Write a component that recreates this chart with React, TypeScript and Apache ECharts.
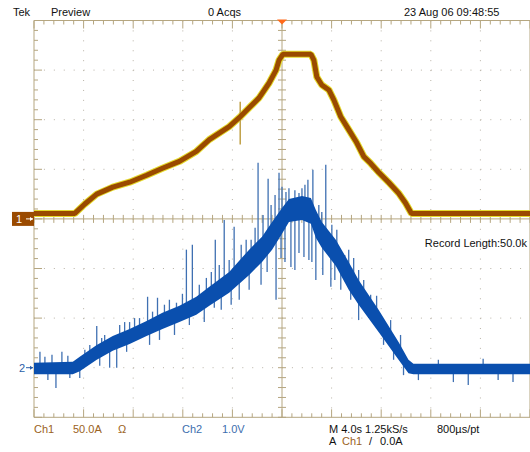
import React, { useEffect, useRef } from "react";
import * as echarts from "echarts";

// Time axis: 4.0 s/div, 10 divisions, trigger at centre
const X_MIN = -20;
const X_MAX = 20;
const X_DIV = 4;
// Ch1: 50.0 A/div, ground at centre
const CH1_MIN = -200;
const CH1_MAX = 200;
const CH1_DIV = 50;
// Ch2: 1.0 V/div, ground 3 div below centre
const CH2_MIN = -1;
const CH2_MAX = 7;

// Ch1 current trace (s, A)
const ch1Time = [-20, -16.71, -15.9, -14.94, -13.65, -12.29, -10.92, -9.64, -8.27, -6.91, -5.86, -4.26, -3.45, -2.65, -1.85, -1.04, -0.48, -0.24, 0.08, 2.33, 2.57, 2.81, 3.21, 3.78, 4.18, 4.74, 5.38, 6.02, 6.59, 7.15, 7.79, 8.59, 9.4, 9.96, 10.44, 20];
const ch1Amps = [5.5, 5.5, 15, 25, 32, 37, 44, 51, 58, 68, 80, 93, 102, 112, 122, 137, 150, 160, 166, 166, 160, 143, 135, 130, 120, 103, 90, 77, 63, 56, 47, 37, 26, 16, 5.5, 5.5];
// Ch1 glitch
const ch1GlitchTime = [-3.37, -3.37];
const ch1GlitchAmps = [118, 75];

// Ch2 voltage trace envelope (s, V)
const ch2Time = [-20, -16.87, -16.31, -14.94, -13.65, -12.29, -10.92, -9.64, -8.27, -6.91, -5.86, -4.26, -2.65, -1.61, -0.8, 0, 0.56, 1.61, 2.33, 2.73, 3.21, 4.34, 5.38, 6.18, 7.79, 9.4, 10.2, 10.6, 20];
const ch2Upper = [0.1, 0.12, 0.22, 0.46, 0.64, 0.78, 0.94, 1.11, 1.25, 1.43, 1.63, 1.93, 2.38, 2.64, 2.94, 3.22, 3.4, 3.46, 3.42, 3.18, 2.94, 2.58, 2.13, 1.77, 1.17, 0.52, 0.16, 0.08, 0.08];
const ch2Lower = [-0.13, -0.13, -0.07, 0.16, 0.34, 0.48, 0.64, 0.78, 0.92, 1.07, 1.25, 1.51, 1.87, 2.13, 2.38, 2.7, 2.94, 2.98, 2.9, 2.62, 2.42, 2.05, 1.57, 1.27, 0.72, 0.16, -0.11, -0.13, -0.13];

// Ch2 noise spikes (s, top V, bottom V)
const spikeTime = [-19.52, -18.55, -17.75, -15.5, -14.94, -14.3, -13.09, -12.29, -11.49, -10.84, -10.04, -9.48, -8.51, -7.71, -7.23, -6.67, -6.1, -5.38, -4.66, -3.86, -3.29, -2.49, -1.93, -1.53, -1.12, -0.56, -0.24, 0, 0.56, 1.04, 1.37, 1.85, 2.49, 2.97, 3.53, 4.42, 5.06, 5.78, 6.59, 7.15, -18.23, -17.11, -13.9, -13.33, -10.68, -8.67, -6.27, -4.9, -3.45, -1.69, -0.48, 0.24, 0.72, 1.37, 1.77, 2.17, 2.73, 3.29, 3.94, 4.74, 6.18, 8.19, 11.0, 15.02, 17.43, 12.61, 13.82, 16.22, 18.63,
  -19.12, -17.27, -15.9, -14.54, -12.69, -11.89, -10.44, -9.08, -8.03, -5.7, -5.06, -4.26, -2.89, -2.17, -0.88, 0.32, 1.61, 2.09, 3.21, 4.02, 5.38, 6.18, 7.63, 8.76, 9.56,
  -18.88, -16.31, -14.7, -12.53, -9.88, -7.47, -5.46, -4.1, -2.65, -1.2, -0.08, 1.04, 2.41, 4.26, 5.54, 6.99, 9.0, 9.8];
const spikeTop = [0.32, 0.26, 0.32, 0.46, 0.84, 0.66, 0.86, 0.92, 1.0, 1.43, 1.41, 1.27, 1.31, 2.38, 2.48, 1.67, 1.81, 2.58, 2.98, 2.84, 2.48, 2.58, 4.13, 3.08, 3.81, 3.48, 3.93, 3.65, 3.62, 3.58, 3.52, 3.69, 3.99, 3.28, 4.09, 2.78, 2.27, 2.21, 1.77, 1.47, 0.0, 0.0, 0.46, 0.46, 0.76, 1.06, 1.37, 1.67, 1.97, 2.27, 2.78, 2.88, 2.98, 2.98, 2.98, 2.94, 2.68, 2.48, 2.38, 2.13, 1.47, 0.86, -0.04, -0.04, -0.04, 0.16, -0.08, 0.18, -0.08,
  0.22, 0.24, 0.36, 0.6, 0.92, 1.0, 1.13, 1.37, 1.49, 1.93, 2.07, 2.17, 2.58, 2.82, 3.28, 3.54, 3.62, 3.79, 3.14, 2.88, 2.38, 1.97, 1.45, 0.96, 0.66,
  -0.04, 0.04, 0.32, 0.56, 0.86, 1.17, 1.53, 1.61, 1.93, 2.38, 2.78, 3.02, 2.94, 2.13, 1.67, 1.33, 0.46, 0.2];
const spikeBottom = [0.04, 0.04, 0.04, 0.2, 0.36, 0.4, 0.56, 0.64, 0.72, 0.86, 0.92, 1.0, 1.08, 1.17, 1.25, 1.37, 1.47, 1.57, 1.77, 1.87, 2.01, 2.17, 2.48, 2.48, 2.68, 2.78, 3.08, 3.18, 3.28, 3.28, 3.28, 3.28, 3.08, 2.78, 2.58, 2.38, 1.93, 1.67, 1.37, 1.17, -0.41, -0.21, 0.0, 0.0, 0.46, 0.66, 0.92, 1.17, 1.37, 1.67, 1.37, 2.13, 2.03, 2.31, 2.23, 2.17, 1.77, 1.87, 1.63, 1.57, 0.96, 0.46, -0.25, -0.35, -0.25, -0.09, -0.29, -0.04, -0.29,
  0.04, 0.04, 0.12, 0.32, 0.6, 0.68, 0.8, 1.04, 1.21, 1.49, 1.61, 1.77, 2.17, 2.38, 2.78, 3.28, 3.38, 3.38, 2.68, 2.48, 1.97, 1.57, 1.06, 0.6, 0.36,
  -0.25, -0.21, 0.04, 0.32, 0.56, 0.86, 1.21, 1.27, 1.57, 1.93, 2.21, 1.97, 2.13, 1.77, 1.37, 1.0, 0.16, -0.15];

const FONT = '11px "Liberation Sans", Arial, sans-serif';
const BLACK = "#111111";
const CH1_TEXT = "#9a6222";
const CH2_TEXT = "#3d6eae";

function txt(text: string, x: number, y: number, fill: string, align = "left") {
  return {
    type: "text",
    x,
    y,
    silent: true,
    style: { text, fill, font: FONT, align, verticalAlign: "middle" },
  };
}

export default function App() {
  const ref = useRef<HTMLDivElement>(null);

  useEffect(() => {
    const chart = echarts.init(ref.current!, undefined, { renderer: "svg" });

    const graticule = (params: any, api: any) => {
      const c = (t: number, a: number) => api.coord([t, a]);
      const [x0, yB] = c(X_MIN, CH1_MIN);
      const [x1, yT] = c(X_MAX, CH1_MAX);
      const [xc, yc] = c(0, 0);
      const dxMinor = (x1 - x0) / 50;
      const dyMinor = (yB - yT) / 40;
      const tan = "#b5a680";
      const dot = "#b8b2a6";
      const kids: any[] = [];
      for (let i = 1; i < 10; i++) {
        if (i === 5) continue;
        const x = c(X_MIN + i * X_DIV, 0)[0];
        kids.push({ type: "line", shape: { x1: x, y1: yT, x2: x, y2: yB }, style: { stroke: dot, lineWidth: 1, lineDash: [1, dyMinor - 1] } });
      }
      for (let j = 1; j < 8; j++) {
        if (j === 4) continue;
        const y = c(0, CH1_MIN + j * CH1_DIV)[1];
        kids.push({ type: "line", shape: { x1: x0, y1: y, x2: x1, y2: y }, style: { stroke: dot, lineWidth: 1, lineDash: [1, dxMinor - 1] } });
      }
      kids.push({ type: "line", shape: { x1: x0, y1: yT, x2: x1, y2: yT }, style: { stroke: tan, lineWidth: 1 } });
      kids.push({ type: "line", shape: { x1: x0, y1: yB, x2: x1, y2: yB }, style: { stroke: tan, lineWidth: 1 } });
      kids.push({ type: "line", shape: { x1: x0, y1: yT, x2: x0, y2: yB }, style: { stroke: tan, lineWidth: 1 } });
      kids.push({ type: "line", shape: { x1: x1, y1: yT, x2: x1, y2: yB }, style: { stroke: tan, lineWidth: 1 } });
      kids.push({ type: "line", shape: { x1: xc, y1: yT, x2: xc, y2: yB }, style: { stroke: tan, lineWidth: 1 } });
      kids.push({ type: "line", shape: { x1: x0, y1: yc, x2: x1, y2: yc }, style: { stroke: tan, lineWidth: 1 } });
      for (let k = 0; k <= 50; k++) {
        const x = c(X_MIN + (k * X_DIV) / 5, 0)[0];
        const major = k % 5 === 0;
        const len = major ? 8 : 4;
        kids.push({ type: "line", shape: { x1: x, y1: yT, x2: x, y2: yT + len }, style: { stroke: tan, lineWidth: 1 } });
        kids.push({ type: "line", shape: { x1: x, y1: yB, x2: x, y2: yB - len }, style: { stroke: tan, lineWidth: 1 } });
        kids.push({ type: "line", shape: { x1: x, y1: yc - 4, x2: x, y2: yc + 4 }, style: { stroke: tan, lineWidth: 1 } });
      }
      for (let m = 0; m <= 40; m++) {
        const y = c(0, CH1_MIN + (m * CH1_DIV) / 5)[1];
        const major = m % 5 === 0;
        const len = major ? 8 : 4;
        kids.push({ type: "line", shape: { x1: x0, y1: y, x2: x0 + len, y2: y }, style: { stroke: tan, lineWidth: 1 } });
        kids.push({ type: "line", shape: { x1: xc - 4, y1: y, x2: xc + 4, y2: y }, style: { stroke: tan, lineWidth: 1 } });
      }
      kids.push({
        type: "polygon",
        shape: { points: [[xc - 5, yT - 1], [xc + 5, yT - 1], [xc, yT + 4]] },
        style: { fill: "#ff6a1a" },
      });
      kids.push({ type: "rect", shape: { x: x0 - 22, y: yc - 7, width: 22, height: 14 }, style: { fill: "#9a4a00" } });
      kids.push({ type: "text", x: x0 - 15, y: yc + 0.5, style: { text: "1", fill: "#ffffff", font: FONT, align: "center", verticalAlign: "middle" } });
      kids.push({ type: "line", shape: { x1: x0 - 8, y1: yc, x2: x0 - 1, y2: yc }, style: { stroke: "#ffffff", lineWidth: 1 } });
      kids.push({ type: "polygon", shape: { points: [[x0 - 1, yc], [x0 - 4, yc - 2], [x0 - 4, yc + 2]] }, style: { fill: "#ffffff" } });
      return { type: "group", children: kids };
    };

    const ch2Band = (params: any, api: any) => {
      const pts: number[][] = [];
      for (let i = 0; i < ch2Time.length; i++) pts.push(api.coord([ch2Time[i], ch2Upper[i]]));
      for (let i = ch2Time.length - 1; i >= 0; i--) pts.push(api.coord([ch2Time[i], ch2Lower[i]]));
      const [gx, gy] = api.coord([X_MIN, 0]);
      return {
        type: "group",
        children: [
          { type: "polygon", shape: { points: pts }, style: { fill: "#0a4fae" } },
          { type: "text", x: gx - 12, y: gy + 0.5, style: { text: "2", fill: "#2a5ea8", font: FONT, align: "center", verticalAlign: "middle" } },
          { type: "line", shape: { x1: gx - 8, y1: gy, x2: gx - 1, y2: gy }, style: { stroke: "#2a5ea8", lineWidth: 1 } },
          { type: "polygon", shape: { points: [[gx - 1, gy], [gx - 4, gy - 2], [gx - 4, gy + 2]] }, style: { fill: "#2a5ea8" } },
        ],
      };
    };

    const spikeItem = (params: any, api: any) => {
      const a = api.coord([api.value(0), api.value(1)]);
      const b = api.coord([api.value(0), api.value(2)]);
      return { type: "line", shape: { x1: a[0], y1: a[1], x2: b[0], y2: b[1] }, style: { stroke: "#3f70b2", lineWidth: 1.3 } };
    };

    const ch1Data = ch1Time.map((t, i) => [t, ch1Amps[i]]);

    chart.setOption({
      animation: false,
      backgroundColor: "#ffffff",
      grid: { left: 34, top: 20.5, width: 498, height: 396.8, containLabel: false },
      xAxis: { type: "value", min: X_MIN, max: X_MAX, interval: X_DIV, show: false },
      yAxis: [
        { type: "value", min: CH1_MIN, max: CH1_MAX, interval: CH1_DIV, show: false },
        { type: "value", min: CH2_MIN, max: CH2_MAX, interval: 1, show: false },
      ],
      series: [
        { type: "custom", name: "graticule", data: [[0, 0]], renderItem: graticule, z: 1, silent: true, clip: false },
        {
          type: "custom",
          name: "ch2 spikes",
          yAxisIndex: 1,
          data: spikeTime.map((t, i) => [t, spikeTop[i], spikeBottom[i]]),
          encode: { x: 0, y: [1, 2] },
          renderItem: spikeItem,
          z: 2,
          silent: true,
        },
        { type: "custom", name: "ch2", yAxisIndex: 1, data: [[0, 0]], renderItem: ch2Band, z: 3, silent: true, clip: false },
        {
          type: "line",
          name: "ch1 halo",
          data: ch1Data,
          showSymbol: false,
          symbol: "none",
          lineStyle: { color: "#e4da2c", width: 7 },
          z: 4,
          silent: true,
        },
        {
          type: "line",
          name: "ch1 glitch",
          data: ch1GlitchTime.map((t, i) => [t, ch1GlitchAmps[i]]),
          showSymbol: false,
          symbol: "none",
          lineStyle: { color: "#c0a046", width: 1.5 },
          z: 4,
          silent: true,
        },
        {
          type: "line",
          name: "ch1",
          data: ch1Data,
          showSymbol: false,
          symbol: "none",
          lineStyle: { color: "#9a4a00", width: 5 },
          z: 5,
          silent: true,
        },
      ],
      graphic: [
        txt("Tek", 13, 12, BLACK),
        txt("Preview", 51, 12, BLACK),
        txt("0 Acqs", 208, 12, BLACK),
        txt("23 Aug 06 09:48:55", 404, 12, BLACK),
        txt("Record Length:50.0k", 527, 243, BLACK, "right"),
        txt("Ch1", 34, 429, CH1_TEXT),
        txt("50.0A", 73, 429, CH1_TEXT),
        txt("Ω", 118, 429, CH1_TEXT),
        txt("Ch2", 182, 429, CH2_TEXT),
        txt("1.0V", 222, 429, CH2_TEXT),
        txt("M 4.0s 1.25kS/s", 329, 429, BLACK),
        txt("800µs/pt", 437, 429, BLACK),
        txt("A", 329, 441, BLACK),
        txt("Ch1", 342, 441, CH1_TEXT),
        txt("/", 369, 441, BLACK),
        txt("0.0A", 380, 441, BLACK),
      ],
    });

    return () => chart.dispose();
  }, []);

  return (
    <div
      ref={ref}
      style={{ position: "fixed", left: 0, top: 0, width: 530, height: 452, background: "#ffffff" }}
    />
  );
}
